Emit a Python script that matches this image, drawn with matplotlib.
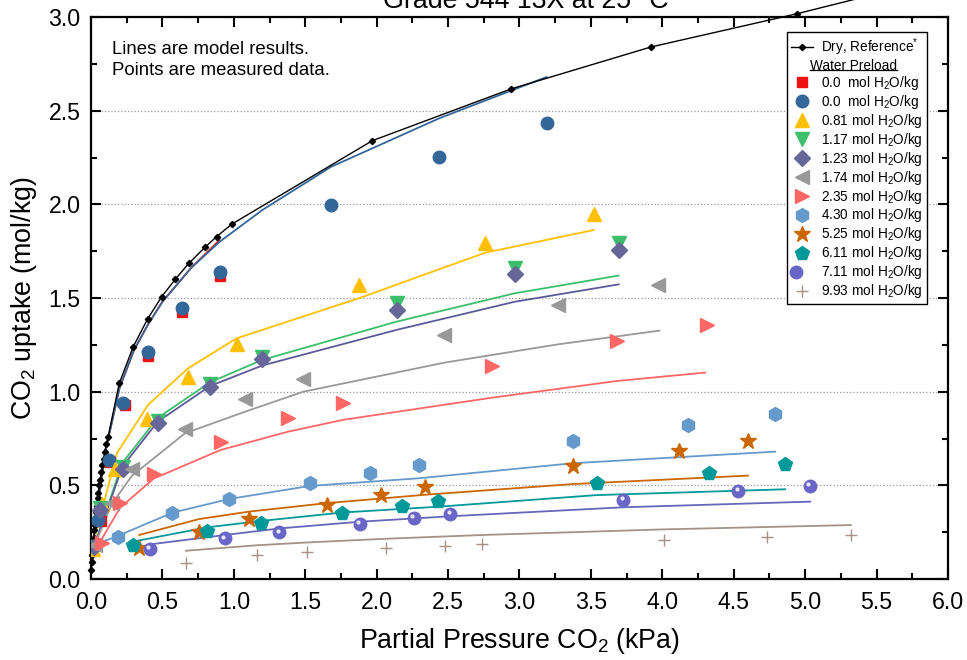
import matplotlib
matplotlib.use('Agg')
import matplotlib.pyplot as plt
from matplotlib.lines import Line2D
from matplotlib.legend_handler import HandlerTuple
import matplotlib.transforms as mtransforms

plt.rcParams['font.family'] = ['Liberation Sans', 'DejaVu Sans']
plt.rcParams['mathtext.fontset'] = 'custom'
plt.rcParams['mathtext.rm'] = 'Liberation Sans'
plt.rcParams['mathtext.it'] = 'Liberation Sans:italic'
plt.rcParams['mathtext.bf'] = 'Liberation Sans:bold'

# ---- dry reference isotherm (black line with points) ----
dry_x = [0.003, 0.006, 0.009, 0.012, 0.015, 0.018, 0.022, 0.026, 0.030, 0.035, 0.040,
         0.046, 0.052, 0.058, 0.065, 0.072, 0.080, 0.088, 0.097, 0.108, 0.120,
         0.198, 0.296, 0.396, 0.495, 0.59, 0.686, 0.798, 0.88, 0.985,
         1.97, 2.94, 3.92, 4.94, 5.9]
dry_y = [0.05, 0.09, 0.13, 0.16, 0.19, 0.22, 0.26, 0.29, 0.32, 0.36, 0.39,
         0.43, 0.46, 0.50, 0.53, 0.57, 0.61, 0.64, 0.68, 0.72, 0.76,
         1.045, 1.24, 1.388, 1.507, 1.60, 1.686, 1.771, 1.828, 1.894,
         2.34, 2.616, 2.84, 3.017, 3.2]

# ---- measured data (points) ----
pts = {
    '0.0s':  ([0.068, 0.133, 0.238, 0.401, 0.635, 0.903],
              [0.31, 0.626, 0.927, 1.19, 1.424, 1.618]),
    '0.0c':  ([0.051, 0.128, 0.226, 0.401, 0.635, 0.903, 1.678, 2.44, 3.19],
              [0.315, 0.635, 0.941, 1.214, 1.445, 1.641, 1.997, 2.255, 2.436]),
    '0.81':  ([0.015, 0.08, 0.168, 0.39, 0.677, 1.02, 1.879, 2.756, 3.52],
              [0.16, 0.40, 0.585, 0.853, 1.077, 1.253, 1.57, 1.792, 1.949]),
    '1.17':  ([0.02, 0.06, 0.221, 0.467, 0.833, 1.2, 2.14, 2.966, 3.695],
              [0.17, 0.38, 0.596, 0.844, 1.041, 1.184, 1.472, 1.662, 1.792]),
    '1.23':  ([0.02, 0.06, 0.221, 0.467, 0.833, 1.2, 2.14, 2.966, 3.695],
              [0.17, 0.37, 0.586, 0.835, 1.027, 1.175, 1.436, 1.628, 1.757]),
    '1.74':  ([0.03, 0.145, 0.285, 0.658, 1.078, 1.487, 2.474, 3.272, 3.968],
              [0.18, 0.404, 0.586, 0.801, 0.959, 1.068, 1.303, 1.463, 1.57]),
    '2.35':  ([0.075, 0.203, 0.441, 0.908, 1.377, 1.767, 2.808, 3.681, 4.316],
              [0.19, 0.404, 0.561, 0.733, 0.858, 0.941, 1.139, 1.271, 1.356]),
    '4.30':  ([0.187, 0.57, 0.966, 1.534, 1.954, 2.299, 3.373, 4.18, 4.79],
              [0.223, 0.354, 0.427, 0.514, 0.568, 0.607, 0.735, 0.82, 0.881]),
    '5.25':  ([0.338, 0.756, 1.109, 1.65, 2.028, 2.341, 3.378, 4.12, 4.60],
              [0.164, 0.253, 0.32, 0.395, 0.448, 0.49, 0.603, 0.683, 0.737]),
    '6.11':  ([0.296, 0.815, 1.19, 1.76, 2.176, 2.432, 3.54, 4.33, 4.86],
              [0.182, 0.258, 0.297, 0.354, 0.39, 0.418, 0.511, 0.568, 0.612]),
    '7.11':  ([0.413, 0.938, 1.319, 1.884, 2.26, 2.516, 3.728, 4.533, 5.035],
              [0.159, 0.217, 0.249, 0.294, 0.327, 0.347, 0.422, 0.47, 0.497]),
    '9.93':  ([0.665, 1.16, 1.51, 2.066, 2.477, 2.74, 4.012, 4.736, 5.32],
              [0.087, 0.126, 0.143, 0.164, 0.176, 0.185, 0.208, 0.226, 0.233]),
}

# ---- model results (lines) ----
model = {
    '0.0s':  ([0.01, 0.05, 0.1, 0.2, 0.3, 0.4, 0.5, 0.6, 0.7, 0.9],
              [0.10, 0.40, 0.68, 1.02, 1.22, 1.36, 1.48, 1.57, 1.66, 1.81]),
    '0.0c':  ([0.02, 0.05, 0.1, 0.2, 0.3, 0.4, 0.5, 0.6, 0.7, 0.9, 1.2, 1.68, 2.44, 3.19],
              [0.15, 0.40, 0.68, 1.02, 1.22, 1.36, 1.48, 1.57, 1.66, 1.80, 1.97, 2.20, 2.46, 2.68]),
    '0.81':  ([0.01, 0.18, 0.40, 0.68, 1.02, 1.88, 2.76, 3.52],
              [0.17, 0.67, 0.93, 1.125, 1.285, 1.50, 1.742, 1.863]),
    '1.17':  ([0.02, 0.22, 0.467, 0.833, 1.2, 2.14, 2.966, 3.695],
              [0.17, 0.62, 0.86, 1.05, 1.17, 1.374, 1.525, 1.62]),
    '1.23':  ([0.02, 0.22, 0.467, 0.833, 1.2, 2.14, 2.966, 3.695],
              [0.17, 0.60, 0.84, 1.03, 1.14, 1.33, 1.48, 1.573]),
    '1.74':  ([0.02, 0.145, 0.285, 0.658, 1.078, 1.487, 2.474, 3.272, 3.98],
              [0.17, 0.40, 0.55, 0.778, 0.893, 1.0, 1.155, 1.253, 1.326]),
    '2.35':  ([0.05, 0.203, 0.441, 0.908, 1.377, 1.767, 2.808, 3.681, 4.30],
              [0.18, 0.38, 0.537, 0.689, 0.786, 0.85, 0.968, 1.057, 1.102]),
    '4.30':  ([0.05, 0.187, 0.57, 0.966, 1.534, 2.299, 3.373, 4.79],
              [0.19, 0.23, 0.354, 0.427, 0.497, 0.538, 0.618, 0.68]),
    '5.25':  ([0.338, 0.756, 1.109, 1.65, 2.341, 3.378, 4.60],
              [0.235, 0.32, 0.36, 0.405, 0.45, 0.507, 0.552]),
    '6.11':  ([0.296, 0.815, 1.19, 1.76, 2.432, 3.54, 4.86],
              [0.20, 0.276, 0.31, 0.355, 0.386, 0.448, 0.479]),
    '7.11':  ([0.413, 0.938, 1.319, 1.884, 2.516, 3.728, 5.035],
              [0.185, 0.235, 0.27, 0.306, 0.335, 0.383, 0.413]),
    '9.93':  ([0.665, 1.16, 1.51, 2.066, 2.74, 4.012, 5.32],
              [0.151, 0.18, 0.195, 0.215, 0.235, 0.265, 0.288]),
}

labels = {
    '0.0s': '0.0  mol H$_2$O/kg', '0.0c': '0.0  mol H$_2$O/kg',
    '0.81': '0.81 mol H$_2$O/kg', '1.17': '1.17 mol H$_2$O/kg',
    '1.23': '1.23 mol H$_2$O/kg', '1.74': '1.74 mol H$_2$O/kg',
    '2.35': '2.35 mol H$_2$O/kg', '4.30': '4.30 mol H$_2$O/kg',
    '5.25': '5.25 mol H$_2$O/kg', '6.11': '6.11 mol H$_2$O/kg',
    '7.11': '7.11 mol H$_2$O/kg', '9.93': '9.93 mol H$_2$O/kg',
}

# 样式: (marker, 点颜色, 线颜色, markersize)
styles = {
    '0.0s': ('s', '#EE1111', '#EE2222', 7),
    '0.0c': ('o', '#336699', '#336699', 9),
    '0.81': ('^', '#FFC000', '#FFC000', 10),
    '1.17': ('v', '#3CBF6A', '#3CBF6A', 10),
    '1.23': ('D', '#666699', '#5B5B99', 8),
    '1.74': ('<', '#999999', '#999999', 10),
    '2.35': ('>', '#FF6666', '#FF6666', 10),
    '4.30': ('h', '#6699CC', '#6699CC', 10),
    '5.25': ('*', '#CC6600', '#CC6600', 12),
    '6.11': ('p', '#009999', '#009999', 10),
    '7.11': ('o', '#6A66C8', '#6666BB', 9),
    '9.93': ('+', '#A39285', '#A39285', 9),
}

fig = plt.figure(figsize=(9.67, 6.6), dpi=100)
ax = fig.add_axes([0.0941, 0.1227, 0.8862, 0.8515])

# 干燥参考线
dry_line, = ax.plot(dry_x, dry_y, color='black', lw=1.0, marker='D', ms=3.2,
                    clip_on=False, zorder=4)

# 模型线
for key, (mx, my) in model.items():
    ax.plot(mx, my, color=styles[key][2], lw=1.3, zorder=3)

# 测量点
handles = [dry_line, Line2D([], [], color='none', lw=0)]
hl_labels = ['Dry, Reference$^{*}$', 'Water Preload']
hl_offset = mtransforms.offset_copy(ax.transData, fig=fig, x=-1.3, y=1.3, units='points')
for key, (px, py) in pts.items():
    mk, col, _, ms = styles[key]
    if mk == '+':
        h, = ax.plot(px, py, ls='none', marker=mk, ms=ms, mew=1.0, color=col, zorder=5)
    else:
        h, = ax.plot(px, py, ls='none', marker=mk, ms=ms, color=col, mec=col, zorder=5)
    if key == '7.11':
        # 小球高光
        ax.plot(px, py, ls='none', marker='o', ms=3, color='white', alpha=0.85,
                mec='none', transform=hl_offset, zorder=6)
        hl = Line2D([], [], ls='none', marker='o', ms=3, color='white', alpha=0.85, mec='none')
        h = (h, hl)
    handles.append(h)
    hl_labels.append(labels[key])

leg = ax.legend(handles, hl_labels, loc='upper right', bbox_to_anchor=(0.9755, 0.973),
                fontsize=9.8, frameon=True, fancybox=False, edgecolor='black',
                framealpha=1, borderpad=0.3, labelspacing=0.07, handlelength=1.6,
                handletextpad=0.6, borderaxespad=0,
                handler_map={tuple: HandlerTuple(ndivide=None)})
leg.get_frame().set_linewidth(1.0)

ax.text(0.024, 0.958, 'Lines are model results.\nPoints are measured data.',
        transform=ax.transAxes, ha='left', va='top', fontsize=13.4, linespacing=1.3)

# 坐标轴
ax.set_xlim(0, 6.0)
ax.set_ylim(0, 3.0)
ax.set_xticks([i * 0.5 for i in range(13)])
ax.set_xticks([i * 0.25 for i in range(25)], minor=True)
ax.set_yticks([i * 0.5 for i in range(7)])
ax.set_yticks([i * 0.25 for i in range(13)], minor=True)
ax.xaxis.set_major_formatter(matplotlib.ticker.FormatStrFormatter('%.1f'))
ax.yaxis.set_major_formatter(matplotlib.ticker.FormatStrFormatter('%.1f'))
ax.tick_params(which='both', direction='in', top=True, right=True, width=1.5, labelsize=16.7)
ax.tick_params(which='major', length=7)
ax.tick_params(which='minor', length=4)
ax.tick_params(axis='x', which='major', pad=8.5)
ax.tick_params(axis='y', which='major', pad=7.5)
for s in ax.spines.values():
    s.set_linewidth(1.6)
ax.grid(axis='y', which='major', linestyle=':', color='#999999', lw=0.9)

ax.set_xlabel('Partial Pressure CO$_2$ (kPa)', fontsize=19.3, labelpad=9)
ax.set_ylabel('CO$_2$ uptake (mol/kg)', fontsize=19.3, labelpad=7)
ax.set_title('Grade 544 13X at 25 \u00b0C', fontsize=19.3, pad=6.5, x=0.507)

# "Water Preload" 表头: 稍向左, 加下划线 (mathtext 不支持 \underline)
fig.canvas.draw()
renderer = fig.canvas.get_renderer()
wp = leg.get_texts()[1]
bb = wp.get_window_extent(renderer)
wp.set_visible(False)
to_fig = fig.transFigure.inverted()
x0, y0 = to_fig.transform((bb.x0 - 11, bb.y0))
hdr = fig.text(x0, y0, 'Water Preload', fontsize=9.8, ha='left', va='bottom', zorder=10)
hb = hdr.get_window_extent(renderer).transformed(to_fig)
uy = to_fig.transform((0, bb.y0 + 2.5))[1]
fig.add_artist(Line2D([hb.x0, hb.x1], [uy, uy], transform=fig.transFigure,
                      color='black', lw=0.9, zorder=10))

fig.savefig('out.png', dpi=100, facecolor='white')
